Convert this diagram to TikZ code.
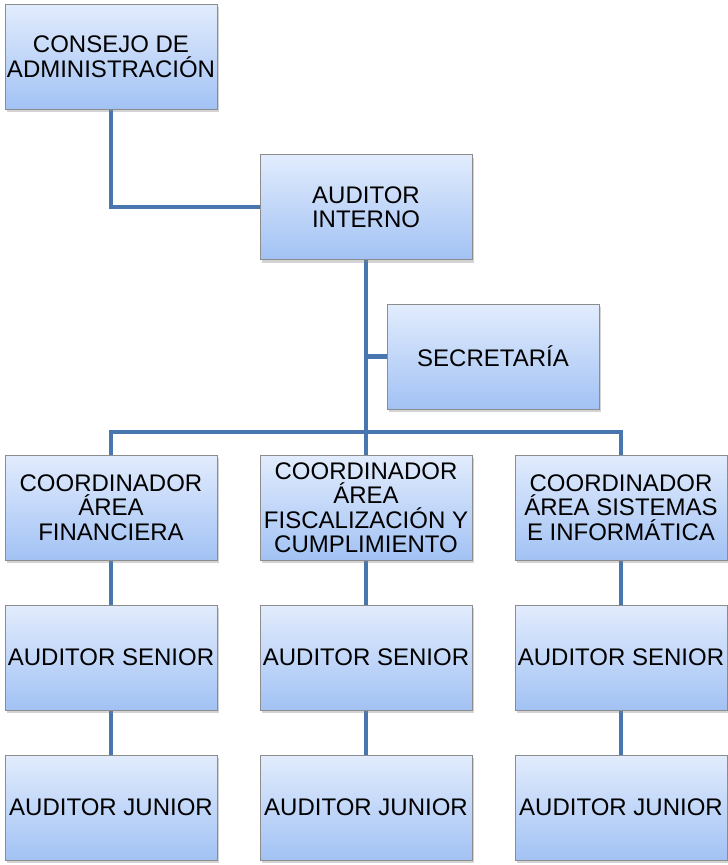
\documentclass[tikz,border=0pt]{standalone}
\usepackage{fontspec}
\setmainfont{Liberation Sans}
\usetikzlibrary{positioning,shadows,backgrounds}

\definecolor{linkblue}{RGB}{74,118,175}
\definecolor{boxtop}{RGB}{226,236,253}
\definecolor{boxbottom}{RGB}{162,194,244}
\definecolor{boxedge}{RGB}{140,140,140}

\begin{document}
\begin{tikzpicture}
    [%%%%%%%%%%%%%%%%%%%%%%%%%%%%%%
    x=1pt, y=-1pt,
    box/.style={rectangle,draw=boxedge,thin,top color=boxtop,bottom color=boxbottom,
        minimum width=212pt,minimum height=105pt,inner sep=1pt,align=center,
        font=\fontsize{24}{24.5}\selectfont,
        drop shadow={opacity=0.35,shadow xshift=2pt,shadow yshift=-3pt}},
    link/.style={draw=linkblue,line width=4.5pt},
    ]%%%%%%%%%%%%%%%%%%%%%%%%%%%%%%

    \useasboundingbox (0,0) rectangle (728,865);

    % top
    \node[box] at (111,56.5) (consejo) {CONSEJO DE\\ADMINISTRACIÓN};
    \node[box] at (366,207) (auditor) {AUDITOR\\INTERNO};
    \node[box] at (493,356.5) (secretaria) {SECRETARÍA};

    % coordinadores
    \node[box] at (111,507.5) (coord_fin) {COORDINADOR\\ÁREA\\FINANCIERA};
    \node[box] at (366,507.5) (coord_fis) {COORDINADOR\\ÁREA\\FISCALIZACIÓN Y\\CUMPLIMIENTO};
    \node[box] at (621,507.5) (coord_sis) {COORDINADOR\\ÁREA SISTEMAS\\E INFORMÁTICA};

    % auditores
    \node[box] at (111,657.5) (senior_fin) {AUDITOR SENIOR};
    \node[box] at (366,657.5) (senior_fis) {AUDITOR SENIOR};
    \node[box] at (621,657.5) (senior_sis) {AUDITOR SENIOR};
    \node[box] at (111,807.5) (junior_fin) {AUDITOR JUNIOR};
    \node[box] at (366,807.5) (junior_fis) {AUDITOR JUNIOR};
    \node[box] at (621,807.5) (junior_sis) {AUDITOR JUNIOR};

    % connectors
    \begin{scope}[on background layer]
        \coordinate (sec_join) at (auditor.south |- secretaria.west);
        \coordinate (bus) at (auditor.south |- 0,432);
        \draw[link] (consejo) |- (auditor);
        \draw[link] (auditor) -- (coord_fis);
        \draw[link] (sec_join) -- (secretaria);
        \draw[link] (coord_fin) |- (bus) -| (coord_sis);
        \draw[link] (coord_fin) -- (senior_fin) -- (junior_fin);
        \draw[link] (coord_fis) -- (senior_fis) -- (junior_fis);
        \draw[link] (coord_sis) -- (senior_sis) -- (junior_sis);
    \end{scope}
\end{tikzpicture}
\end{document}
